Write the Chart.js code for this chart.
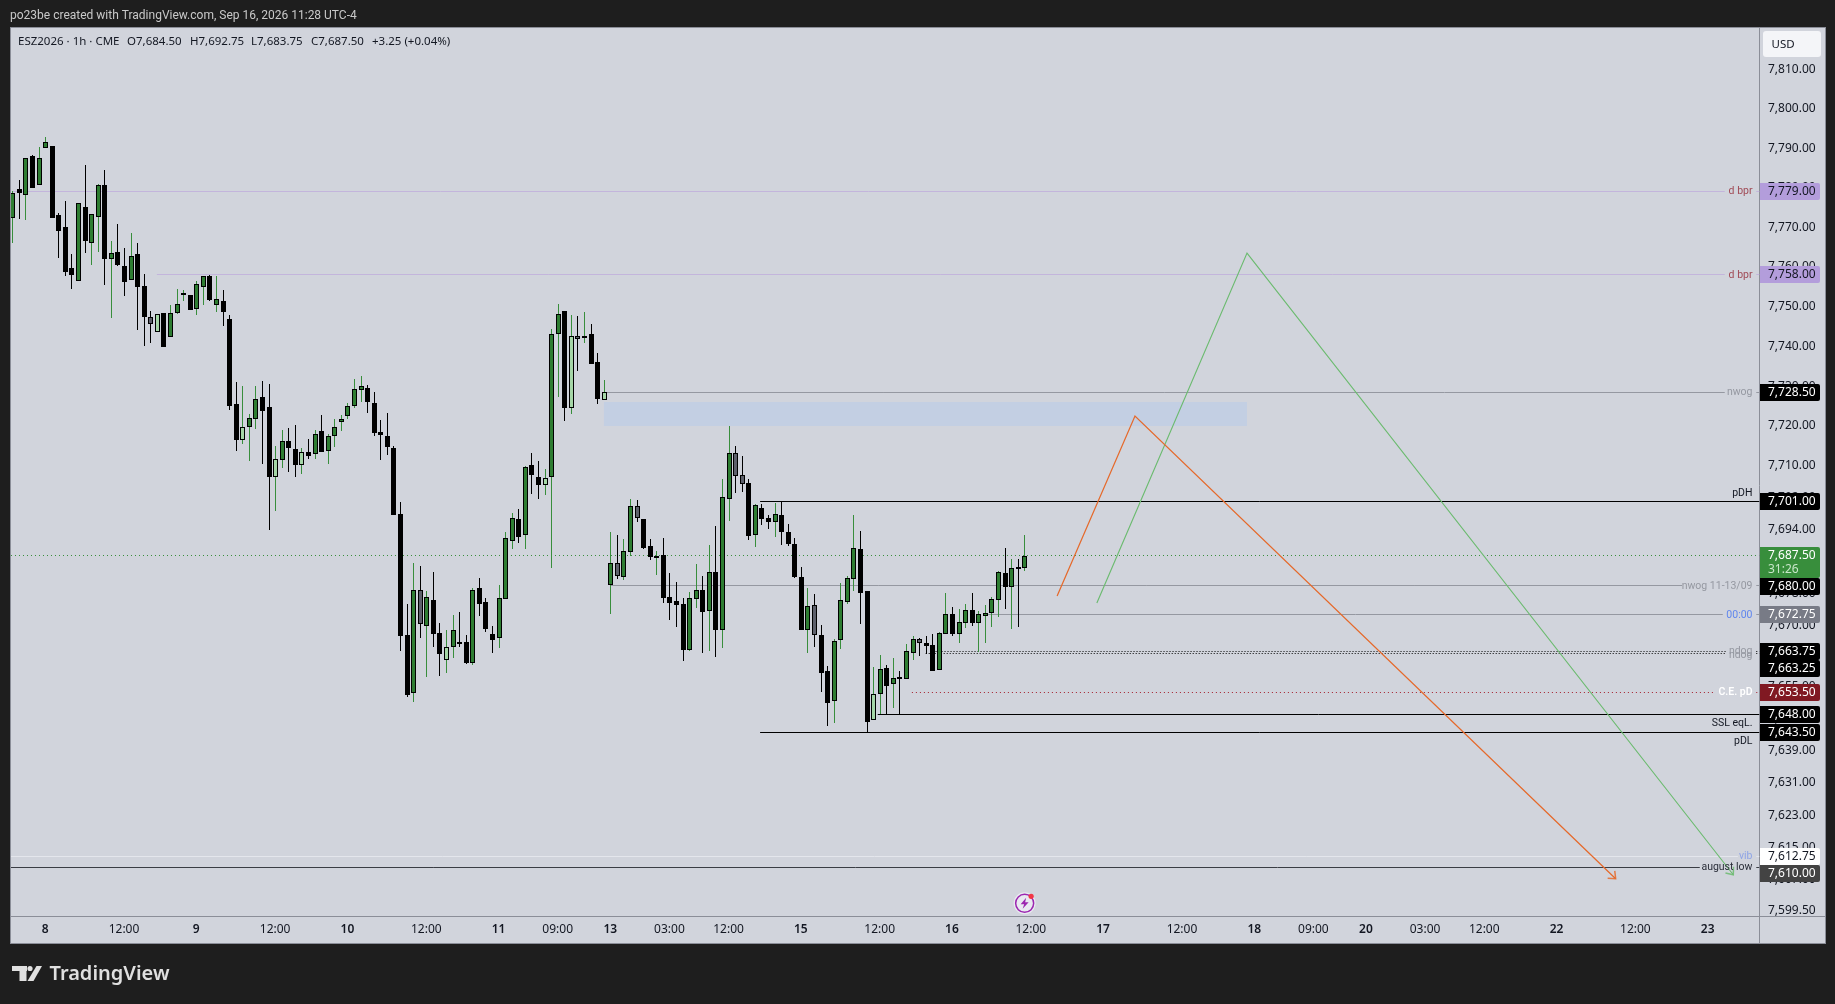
<!DOCTYPE html>
<html><head><meta charset="utf-8"><title>ESZ2026 1h</title>
<style>html,body{margin:0;padding:0;background:#1e1e1e;overflow:hidden}canvas{display:block}</style>
<script src="https://cdn.jsdelivr.net/npm/chart.js@4"></script></head>
<body><canvas id="c" width="1835" height="1004"></canvas>
<script>
// ---- candle data (hourly bars, bar number = position on the time axis) ----
const kinds = "GBGBGGBBBBGBGGBGBBGBBDLBGGGBGGBGBBBLGGBBLGBBLBGBGGGGGGBBBBBBBGDGBBLGBBGBBBGGGBGBBLGGBLDEBBLGDGGDBBGBBBBGGBGBGGDDBGBBGBBBBGDBBGGGGBBLGBGBGGDBBGGBGGBGGGGBGBG";
const highs = [7779.25,7782,7787.5,7788.25,7790.25,7792.75,7790.5,7773.5,7776.75,7763.25,
7776.25,7785.75,7773.25,7781,7784.5,7766.5,7770.75,7764.75,7768.5,7766,
7758.25,7749,7748.25,7748.5,7750.5,7754.5,7754.25,7753,7756.5,7757.75,
7758,7757.75,7754.25,7748,7731,7730,7723,7730,7731.25,7730.5,
7715,7719,7719.5,7720.25,7714.5,7716.75,7719,7722.75,7718,7721.75,
7722.75,7725.75,7731.75,7732.5,7730.25,7728.5,7721.5,7723.25,7715,7701,
7675.5,7685.75,7685,7678.75,7683.5,7670.75,7669,7672.75,7673.5,7667.75,
7679.5,7682,7677,7670,7680.25,7693.5,7698.25,7699.25,7710,7713.25,
7711.25,7709.25,7744.25,7750.75,7749,7748,7747.75,7748.75,7745.75,7738.25,
7731.5,7693.5,7692.75,7691.75,7701.75,7701.5,7696.75,7691.75,7688.75,7692,
7683.25,7681,7677,7678.5,7685.5,7682.5,7690.25,7695,7706.75,7720,
7715,7712.5,7706.75,7700.5,7700.5,7697.75,7700.75,7701,7695.5,7692,
7684.75,7679.5,7678,7670.25,7660,7666.75,7680.75,7682.5,7697.75,7693.75,
7678.75,7659.75,7662.75,7660.25,7662,7658.75,7665.5,7667.5,7667,7667.5,
7668,7668.5,7678.25,7674.75,7674.25,7675.5,7678.25,7673.75,7675.25,7677.25,
7683.75,7689.5,7686.75,7686.75,7692.75];
const lows = [7766,7772,7771.75,7780,7780.75,7790,7772.25,7762.25,7757.75,7754.5,
7756.5,7763.5,7760.5,7763.75,7755.5,7747.25,7760.25,7752.75,7756.75,7744,
7740,7740.75,7743.5,7739.75,7742.25,7748.25,7751.5,7749.25,7748,7750.5,
7751.5,7748.75,7745.25,7724,7713.75,7715.5,7711.25,7719.25,7710.5,7694,
7698.75,7709.5,7708.5,7707.25,7708,7711.75,7711.75,7713.5,7710.5,7714.75,
7718.75,7721.75,7724.5,7726,7723.25,7717.5,7711.5,7712.75,7697.75,7663.75,
7652.25,7651,7667,7657.25,7664.75,7657.5,7658.25,7662,7664.75,7660.5,
7660.25,7672.5,7668.5,7663.25,7664.5,7676.75,7689.25,7690.75,7689.25,7703,
7701.75,7702.75,7684.5,7727.25,7721.25,7723,7733.75,7740.75,7735.5,7725.5,
7726.5,7673,7681.75,7681.5,7687.5,7696,7689.25,7686.5,7682.75,7675.75,
7671.5,7669.75,7661.25,7663.75,7674.5,7663.25,7663.75,7662.25,7664.5,7696.25,
7703.25,7703.5,7691.5,7689.75,7695.25,7694.25,7692.25,7690.25,7690,7682,
7669,7663.25,7664.75,7653.5,7645,7645.75,7664.25,7675.5,7678.75,7670.5,
7643.5,7646.5,7648,7648,7649.5,7648,7656.75,7661.5,7662.5,7663,
7658.75,7659,7668,7667.5,7665.75,7669.5,7670,7663.5,7665.75,7669.75,
7672.25,7674.25,7669.25,7669.75,7683.75];
const opens = [7772.25,7779.75,7778.25,7788,7780.75,7790,7790.5,7773,7770,7759.75,
7756.5,7775.25,7766,7772.5,7780.75,7762,7763.75,7760.25,7756.75,7763.25,
7755.25,7747.5,7743.5,7748.5,7742.25,7748.5,7753.25,7753,7749.5,7755,
7757.75,7750.5,7751.5,7747,7725.5,7716.5,7719.75,7721.75,7727.25,7724.75,
7707.25,7711.5,7716.25,7714.25,7710.25,7713.5,7713,7718.75,7713.75,7717.5,
7721,7722.5,7725,7729,7729.5,7725.75,7718.5,7717.5,7714.5,7698,
7667.75,7653.25,7679,7670,7676.5,7668.25,7661.5,7664.75,7666,7666,
7660.75,7679.5,7676,7668,7667,7676.75,7691.25,7696.75,7692.75,7710.25,
7707.25,7705.25,7707.25,7743,7749,7724.5,7742.5,7742,7743,7736,
7726.5,7680.25,7685.75,7682.25,7688.5,7700,7696.75,7690,7687.25,7687.75,
7677.25,7676.25,7675.5,7664,7676.75,7679,7673.75,7683.5,7669,7701.75,
7713.25,7707.75,7705.75,7692.75,7699.5,7697,7696,7697.75,7693.5,7690.5,
7682.25,7669,7675.25,7667.75,7658.75,7651.25,7666.5,7676,7681.75,7689.25,
7678.75,7646.5,7653,7659.5,7655.5,7657.25,7656.75,7663.25,7666.75,7665.75,
7665.25,7659,7668,7673,7668,7670.75,7674,7670.75,7672.5,7673.25,
7676.5,7683.25,7679.75,7684.75,7684.5];
const closes = [7778.75,7778.75,7787.5,7780,7787.5,7791.5,7772.25,7769,7758.75,7758,
7776.25,7766.5,7773.25,7780.75,7762,7763.5,7760.5,7756.25,7762.75,7755,
7747.5,7745.75,7748.25,7739.75,7748.5,7750.75,7753.5,7749.25,7755.75,7757.75,
7751.75,7752,7748.75,7725,7716.5,7719.75,7722,7726.75,7723.75,7707.25,
7711.75,7716.25,7714.5,7710.25,7713.5,7712.5,7718,7713.5,7717.5,7719.75,
7721.75,7725,7729.25,7730,7726,7718.25,7717.75,7714.75,7697.75,7667.5,
7652.75,7679,7670.5,7677.25,7668,7663,7664.75,7669,7665.5,7660.75,
7679,7675.5,7669.25,7666.5,7677,7692,7697,7692.25,7709.75,7707.75,
7705.25,7707,7743,7748.25,7724.5,7742.5,7741.75,7742.5,7735.5,7726.75,
7728.5,7685.75,7682.5,7688.75,7700,7697,7689.5,7687.25,7687.5,7677,
7675.75,7675.25,7664,7677,7679,7673.5,7683.5,7669,7702.25,7713.25,
7707.5,7705.5,7692.5,7700.25,7696.75,7696,7698,7693.5,7690.5,7682.25,
7669,7675,7667.75,7658.25,7650.75,7666.25,7676.5,7682,7689.5,7678.25,
7646,7653,7659.25,7655,7657,7656.75,7663.75,7666.75,7665.75,7665,
7658.75,7668.25,7673,7668,7671,7674,7670.75,7673,7673.25,7676.75,
7683.5,7679.75,7684.5,7684.25,7687.5];

// ---- axes ----
const timeTickBars   = [5,17,28,40,51,63,74,83,91,100,109,120,132,143,155,166,178,189,198,206,215,224,235,247,258];
const timeTickLabels = ["8","12:00","9","12:00","10","12:00","11","09:00","13","03:00","12:00","15","12:00","16","12:00","17","12:00","18","09:00","20","03:00","12:00","22","12:00","23"];
const priceTicks = [7810,7800,7790,7780,7770,7760,7750,7740,7730,7720,7710,7702,7694,7686,7678,7670,7663,7655,7647,7639,7631,7623,7615,7607,7599.5];

// ---- horizontal levels: value, first bar, bar where the line stops for its label ----
const levelValues = [7779,7758,7728.5,7701,7687.5,7680,7672.75,7663.75,7663.25,7653.5,7648,7643.5,7612.75,7610];
const levelStarts = [0,22,90,113.8,-0.2,91,148.5,140.5,139,136.9,131.7,113.8,-0.2,-0.2];
const levelGaps   = [260.6,260.6,260.6,null,null,254.1,260.3,260.8,260.8,258.8,null,null,262.6,256.8];
const levelTexts  = ["d bpr","d bpr","nwog","pDH",null,"nwog 11-13/09","00:00","ndog","ndog","C.E. pD","SSL eqL.","pDL","vib","august low"];

// ---- drawings ----
const zoneBars = [90,187.9];
const zoneTop = 7726, zoneBottom = 7720;
const orangeBars = [159,170.85,244];
const orangePrices = [7677.5,7722.5,7607.25];
const greenBars = [165.05,187.9,261.9];
const greenPrices = [7675.75,7763.5,7608.25];

// ---- price badges on the axis ----
const badgeValues = [7779,7758,7728.5,7701,7687.5,7680,7672.75,7663.75,7663.25,7653.5,7648,7643.5,7612.75,7610];
const countdownText = "31:26";

// ---- texts ----
const headerText = "po23be created with TradingView.com, Sep 16, 2026 11:28 UTC-4";
const legendTexts = ["ESZ2026 · 1h · CME","O7,684.50","H7,692.75","L7,683.75","C7,687.50","+3.25 (+0.04%)"];

// ---- styles ----
const FONT = '"Noto Sans"', LABEL_FONT='Roboto';
const DARK = '#1e1e1e', PANEL = '#d1d4dc', EDGE = '#8b8e98', INK = '#131722';
const BAR_FILL = {G:'#2e7d32',B:'#000000',L:'#a5d6a7',D:'#5d606b',E:'#5d606b'};
const WICK = {G:'#388e3c',B:'#000000',L:'#388e3c',D:'#000000',E:'#388e3c'};
const PURPLE='#c3b5dc', GRAY='#9598a1', BLACK='#000000';
const levelStyle = [
 {c:PURPLE,w:1},{c:PURPLE,w:1},{c:GRAY,w:1},{c:BLACK,w:1},{c:'#388e3c',w:1,d:[1,3]},{c:GRAY,w:1},{c:GRAY,w:1},
 {c:BLACK,w:1,d:[1,2]},{c:BLACK,w:1,d:[1,2]},{c:'#a51d2a',w:1,d:[1,3]},{c:BLACK,w:1},{c:BLACK,w:1},{c:'#e4e6ec',w:1},{c:'#3a3d44',w:1}];
const levelTextStyle = [
 {c:'#a04a55',dy:0},{c:'#a04a55',dy:0},{c:GRAY,dy:0},{c:INK,dy:-8},null,{c:GRAY,dy:0},{c:'#5f86ee',dy:0},
 {c:GRAY,dy:0},{c:GRAY,dy:2},{c:'#ffffff',dy:0,b:true},{c:INK,dy:9},{c:INK,dy:9},{c:'#8ea4e6',dy:0},{c:'#2a2e39',dy:0}];
const badgeStyle = [
 {bg:'#b39ddb',fg:INK},{bg:'#b39ddb',fg:INK},{bg:'#000',fg:'#fff'},{bg:'#000',fg:'#fff'},{bg:'#388e3c',fg:'#fff',two:true},
 {bg:'#000',fg:'#fff'},{bg:'#787b86',fg:'#fff'},{bg:'#000',fg:'#fff'},{bg:'#000',fg:'#fff'},{bg:'#801922',fg:'#fff'},
 {bg:'#000',fg:'#fff'},{bg:'#000',fg:'#fff'},{bg:'#ffffff',fg:INK},{bg:'#434343',fg:'#fff'}];
const X_MIN=-0.198, X_MAX=265.89, TAIL=265.4;

const money = v => v.toLocaleString('en-US',{minimumFractionDigits:2,maximumFractionDigits:2});
const barIdx = highs.map((_,i)=>i);

// ---- datasets ----
const levelSets = levelValues.map((v,i)=>{
  const s=levelStyle[i], pts=[{x:levelStarts[i],y:v}];
  if(levelGaps[i]===null) pts.push({x:X_MAX,y:v});
  else pts.push({x:levelGaps[i],y:v},{x:levelGaps[i]+0.1,y:null},{x:TAIL,y:v},{x:X_MAX,y:v});
  return {type:'line',label:'level',snap:'level',order:20,data:pts,borderColor:s.c,borderWidth:s.w,borderDash:s.d||[],pointRadius:0,tension:0,fill:false,spanGaps:false};
});
const polyline=(xs,ys,c,w)=>({type:'line',label:'drawing',arrow:true,order:1,data:xs.map((x,i)=>({x,y:ys[i]})),borderColor:c,borderWidth:w,pointRadius:0,tension:0,fill:false});
const datasets=[
 {type:'line',label:'zone',order:30,data:zoneBars.map(x=>({x,y:zoneTop})),borderWidth:0,pointRadius:0,tension:0,backgroundColor:'#c3cfe3',fill:{value:zoneBottom}},
 ...levelSets,
 {type:'bar',label:'wicks',snap:'bar',order:10,grouped:false,inflateAmount:0,barThickness:1,borderWidth:0,
  data:barIdx.map(i=>({x:i,y:[lows[i],highs[i]]})),backgroundColor:barIdx.map(i=>WICK[kinds[i]])},
 {type:'bar',label:'bodies',snap:'bar',body:true,order:5,grouped:false,inflateAmount:0,barThickness:5,borderWidth:1,borderSkipped:false,
  data:barIdx.map(i=>({x:i,y:[opens[i],closes[i]]})),backgroundColor:barIdx.map(i=>BAR_FILL[kinds[i]]),borderColor:'#000'},
 polyline(orangeBars,orangePrices,'#e56a2c',1.25),
 polyline(greenBars,greenPrices,'#6cbb70',1.15)
];

function text(ctx,s,x,y,color,font,align){ctx.fillStyle=color;ctx.font=font;ctx.textAlign=align||'left';ctx.textBaseline='middle';ctx.fillText(s,x,y);}

// snap marks to whole pixels, as the trading screen does
const snapPlugin={id:'snap',afterDatasetsUpdate(chart){
  chart.data.datasets.forEach((d,i)=>{
    if(!d.snap) return;
    chart.getDatasetMeta(i).data.forEach(el=>{
      if(d.snap==='bar'){
        el.x=Math.round(el.x)+0.5;
        let a=Math.round(el.y),b=Math.round(el.base);
        if(Math.abs(a-b)<(d.body?2:1)) b=a+(d.body?2:1);
        el.y=a;el.base=b;
      } else if(isFinite(el.y)) el.y=Math.floor(el.y)+0.5;
    });
  });
}};

const chromePlugin={id:'chrome',
 beforeDraw(chart){
  const c=chart.ctx,a=chart.chartArea;
  c.save();
  c.fillStyle=DARK;c.fillRect(0,0,chart.width,chart.height);
  c.fillStyle=PANEL;c.fillRect(10,27,1816,917);
  c.strokeStyle=EDGE;c.lineWidth=1;
  c.strokeRect(10.5,27.5,1815,916);
  c.beginPath();c.moveTo(a.right,27);c.lineTo(a.right,944);c.moveTo(10,916.5);c.lineTo(1826,916.5);c.stroke();
  text(c,headerText,10,15.5,'#c9c9c9','12px '+LABEL_FONT);
  const lx=[18,127,190,251,311,372];
  legendTexts.forEach((t,i)=>text(c,t,lx[i],41.5,INK,'11.5px '+FONT));
  // logo
  c.fillStyle='#e0e0e0';
  c.fillRect(12,966,15,5);c.fillRect(19.5,966,7,15);
  c.beginPath();c.arc(30,968.5,2.6,0,Math.PI*2);c.fill();
  c.beginPath();c.moveTo(36.5,966);c.lineTo(42,966);c.lineTo(33.5,981);c.lineTo(27.5,981);c.closePath();c.fill();
  text(c,'TradingView',49.5,974,'#e0e0e0','600 20px '+FONT);
  c.restore();
 },
 afterDraw(chart){
  const c=chart.ctx,ys=chart.scales.y,xs=chart.scales.x;
  c.save();
  // arrow heads
  chart.data.datasets.forEach((d,i)=>{
    if(!d.arrow) return;
    const p=chart.getDatasetMeta(i).data,e=p[p.length-1],s=p[p.length-2];
    const ang=Math.atan2(e.y-s.y,e.x-s.x),L=8;
    c.strokeStyle=d.borderColor;c.lineWidth=1.5;c.globalAlpha=.85;
    c.beginPath();
    c.moveTo(e.x+L*Math.cos(ang+2.45),e.y+L*Math.sin(ang+2.45));
    c.lineTo(e.x,e.y);
    c.lineTo(e.x+L*Math.cos(ang-2.45),e.y+L*Math.sin(ang-2.45));
    c.stroke();c.globalAlpha=1;
  });
  // level labels
  levelTexts.forEach((t,i)=>{
    if(!t) return;
    const st=levelTextStyle[i];
    text(c,t,1752.5,ys.getPixelForValue(levelValues[i])+st.dy,st.c,(st.b?'600 ':'')+'10.5px '+LABEL_FONT,'right');
  });
  // badges, pushed down when they would overlap
  const H=17;let prevBottom=-1e9;
  badgeValues.forEach((v,i)=>{
    const st=badgeStyle[i];
    let cy=ys.getPixelForValue(v);
    let top=Math.round(Math.max(cy-H/2,prevBottom));
    const h=st.two?31:H;
    c.fillStyle=st.bg;
    c.beginPath();c.roundRect(1760,top,60,h,[0,2,2,0]);c.fill();
    text(c,money(v),1768,top+H/2+.5,st.fg,'12px '+FONT);
    if(st.two) text(c,countdownText,1768,top+H+6,'#c8e6c9','12px '+FONT);
    prevBottom=top+h;
  });
  // currency button
  c.fillStyle='#f4f5f8';c.beginPath();c.roundRect(1763,31,58,26,3);c.fill();
  text(c,'USD',1771.5,44.5,INK,'11.5px '+FONT);
  // alert icon
  const ix=xs.getPixelForValue(154)+.4,iy=903.3;
  c.fillStyle='#e9e9f1';c.beginPath();c.arc(ix,iy,11,0,Math.PI*2);c.fill();
  c.strokeStyle='#9c27b0';c.lineWidth=1.5;c.beginPath();c.arc(ix,iy,9,0,Math.PI*2);c.stroke();
  c.fillStyle='#9c27b0';c.beginPath();
  c.moveTo(ix+1.5,iy-5.5);c.lineTo(ix-4,iy+1);c.lineTo(ix-.5,iy+1);c.lineTo(ix-2,iy+5.5);c.lineTo(ix+4,iy-1);c.lineTo(ix+.5,iy-1);c.closePath();c.fill();
  c.fillStyle='#f23645';c.beginPath();c.arc(ix+6.5,iy-7,2.6,0,Math.PI*2);c.fill();
  c.restore();
 }};

new Chart(document.getElementById('c'),{
 type:'bar',
 data:{datasets},
 plugins:[snapPlugin,chromePlugin],
 options:{
  responsive:false,animation:false,events:[],devicePixelRatio:1,
  layout:{padding:{left:11,right:10,top:28,bottom:60}},
  plugins:{legend:{display:false},title:{display:false},tooltip:{enabled:false}},
  scales:{
   x:{type:'linear',position:'bottom',min:X_MIN,max:X_MAX,offset:false,bounds:'data',
      grid:{display:false,drawTicks:false},border:{display:false},
      afterBuildTicks:s=>{s.ticks=timeTickBars.map(v=>({value:v}));},
      afterFit:s=>{s.height=27;},
      ticks:{autoSkip:false,maxRotation:0,minRotation:0,padding:5,color:INK,
        font:ctx=>{const k=timeTickBars.indexOf(ctx.tick?ctx.tick.value:-1);const t=timeTickLabels[k]||'';return {family:FONT,size:12,weight:t.includes(':')?'normal':'600'};},
        callback:v=>timeTickLabels[timeTickBars.indexOf(v)]}},
   y:{type:'logarithmic',position:'right',min:7597.81,max:7820.49,bounds:'data',
      grid:{display:false,drawTicks:false},border:{display:false},
      afterBuildTicks:s=>{s.ticks=priceTicks.map(v=>({value:v}));},
      afterFit:s=>{s.width=65.5;},
      ticks:{autoSkip:false,padding:8.5,color:INK,font:{family:FONT,size:12},callback:v=>money(v)}}
  }
 }
});
</script></body></html>
